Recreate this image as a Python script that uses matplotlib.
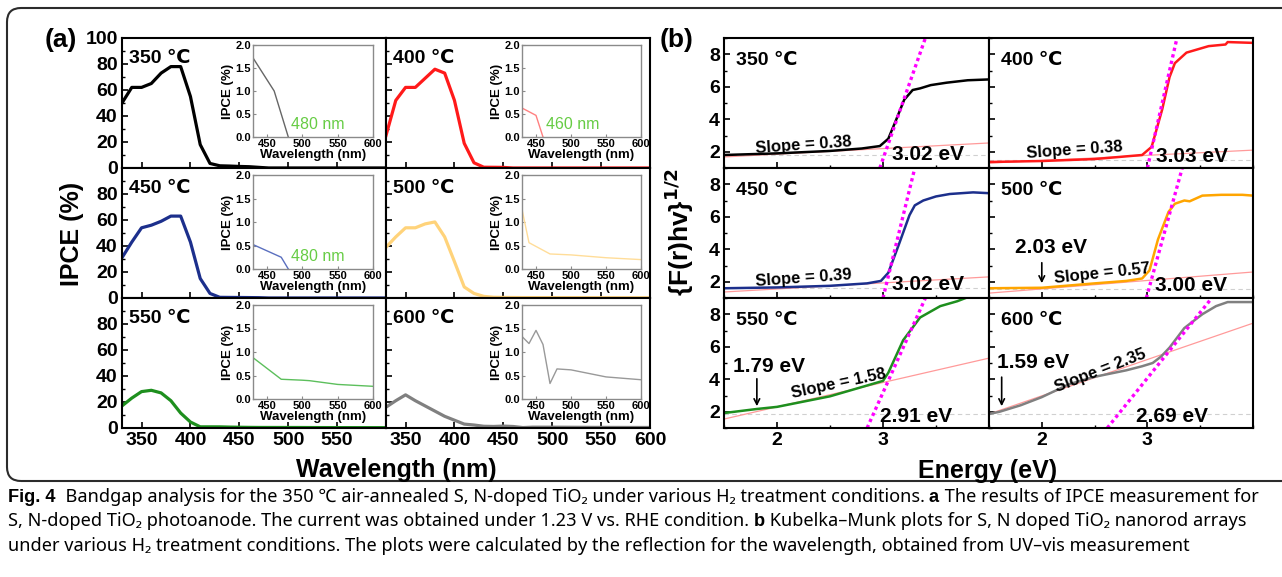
import matplotlib
matplotlib.use("Agg")
import matplotlib.pyplot as plt
from matplotlib.patches import FancyBboxPatch
from matplotlib.transforms import IdentityTransform
from matplotlib.ticker import MultipleLocator

W, H = 1282, 577

plt.rcParams['font.family'] = ['Liberation Sans', 'DejaVu Sans']
plt.rcParams['font.weight'] = 'bold'
plt.rcParams['axes.labelweight'] = 'bold'
plt.rcParams['axes.linewidth'] = 1.5

temps = ['350', '400', '450', '500', '550', '600']

# ---------- (a) IPCE ----------
wavelength = [330, 340, 350, 360, 370, 380, 390, 400, 410, 420, 430, 440, 450, 460,
              470, 480, 490, 500, 510, 520, 530, 540, 550, 560, 570, 580, 590, 600]
ipce_350 = [50, 62, 62, 65, 73, 78, 78, 55, 18, 3.5, 1.7, 1.5, 1.2, 1.0,
            0.5, 0, 0, 0, 0, 0, 0, 0, 0, 0, 0, 0, 0, 0]
ipce_400 = [25, 52, 62, 62, 69, 76, 73, 52, 19, 4, 0.6, 0.55, 0.47, 0,
            0, 0, 0, 0, 0, 0, 0, 0, 0, 0, 0, 0, 0, 0]
ipce_450 = [31, 43, 54, 56, 59, 63, 63, 43, 15, 3.5, 0.52, 0.45, 0.4, 0.33,
            0.25, 0, 0, 0, 0, 0, 0, 0, 0, 0, 0, 0, 0, 0]
ipce_500 = [39, 47, 54, 54, 57, 58.5, 47, 28, 8.5, 3.5, 1.27, 0.56, 0.45, 0.38,
            0.32, 0.31, 0.3, 0.3, 0.29, 0.28, 0.27, 0.25, 0.24, 0.23, 0.22, 0.21, 0.2, 0.2]
ipce_550 = [17, 23, 28, 29, 27, 21, 11.5, 4.6, 0.9, 0.9, 0.88, 0.7, 0.58, 0.48,
            0.42, 0.41, 0.4, 0.4, 0.39, 0.36, 0.34, 0.32, 0.31, 0.3, 0.29, 0.28, 0.27, 0.27]
ipce_600 = [16, 21, 25.5, 21, 17, 13, 9, 6, 3, 2.3, 1.33, 1.18, 1.46, 1.16,
            0.33, 0.64, 0.63, 0.62, 0.6, 0.56, 0.52, 0.48, 0.47, 0.45, 0.44, 0.42, 0.41, 0.41]

# insets (430-600 nm, zoomed)
inset_wl_350 = [430, 460, 480]
inset_350 = [1.72, 1.0, 0.0]
inset_wl_400 = [430, 450, 460]
inset_400 = [0.63, 0.47, 0.0]
inset_wl_450 = [430, 470, 480]
inset_450 = [0.52, 0.25, 0.0]
inset_wl_500 = [430, 440, 470, 500, 550, 600]
inset_500 = [1.27, 0.56, 0.32, 0.3, 0.24, 0.2]
inset_wl_550 = [430, 470, 500, 510, 550, 600]
inset_550 = [0.88, 0.42, 0.4, 0.39, 0.31, 0.27]
inset_wl_600 = [430, 440, 450, 460, 470, 480, 500, 550, 600]
inset_600 = [1.33, 1.18, 1.46, 1.16, 0.33, 0.64, 0.62, 0.47, 0.41]
onset_labels = ['480 nm', '460 nm', '480 nm', '', '', '']

# ---------- (b) Kubelka-Munk ----------
ke_350 = [1.5, 2.0, 2.5, 2.8, 2.97, 3.05, 3.12, 3.2, 3.28, 3.35, 3.45, 3.6, 3.8, 4.0]
km_350 = [1.8, 1.9, 2.05, 2.2, 2.35, 2.8, 3.9, 5.2, 5.8, 5.9, 6.1, 6.25, 6.4, 6.45]
ke_400 = [1.5, 2.0, 2.5, 2.95, 3.04, 3.14, 3.21, 3.26, 3.37, 3.58, 3.74, 3.76, 4.0]
km_400 = [1.37, 1.43, 1.55, 1.8, 2.3, 4.6, 6.6, 7.45, 8.1, 8.5, 8.6, 8.75, 8.7]
ke_450 = [1.5, 2.0, 2.5, 2.85, 2.98, 3.05, 3.15, 3.25, 3.3, 3.38, 3.5, 3.63, 3.85, 4.0]
km_450 = [1.6, 1.65, 1.75, 1.9, 2.05, 2.55, 4.3, 6.1, 6.7, 7.0, 7.25, 7.4, 7.5, 7.45]
ke_500 = [1.5, 2.0, 2.5, 2.8, 2.95, 3.02, 3.1, 3.2, 3.26, 3.35, 3.4, 3.52, 3.7, 3.9, 4.0]
km_500 = [1.6, 1.63, 1.9, 2.05, 2.2, 2.7, 4.6, 6.3, 6.8, 7.0, 6.95, 7.3, 7.35, 7.35, 7.3]
ke_550 = [1.5, 1.81, 2.0, 2.5, 3.0, 3.05, 3.19, 3.35, 3.54, 3.7, 3.78]
km_550 = [1.92, 2.17, 2.3, 2.95, 3.9, 4.4, 6.4, 7.8, 8.5, 8.8, 9.0]
ke_600 = [1.5, 1.6, 1.8, 2.0, 2.26, 2.5, 2.8, 2.95, 3.05, 3.13, 3.21, 3.35, 3.52, 3.65, 3.76, 4.0]
km_600 = [1.86, 2.0, 2.4, 2.9, 3.7, 4.15, 4.55, 4.8, 5.0, 5.4, 5.95, 7.15, 8.0, 8.5, 8.75, 8.75]

# tangent (band edge) lines, from value 1 to 9
tangent_e0 = [2.97, 3.0, 3.0, 2.99, 2.85, 2.62]
tangent_e1 = [3.40, 3.28, 3.30, 3.33, 3.40, 3.61]
# linear fits of the sub-gap region, at E = 1.5 and 4.0
fit_v0 = [1.68, 1.3, 1.37, 1.3, 1.55, 1.86]
fit_v1 = [2.54, 2.1, 2.3, 2.6, 5.3, 7.45]
baseline_v = [1.8, 1.5, 1.6, 1.55, 1.86, 1.86]
slope_text = ['Slope = 0.38', 'Slope = 0.38', 'Slope = 0.39', 'Slope = 0.57', 'Slope = 1.58', 'Slope = 2.35']
slope_pos = [(2.25, 2.42), (2.31, 2.1), (2.25, 2.23), (2.57, 2.48), (2.58, 3.7), (2.55, 4.5)]
slope_rot = [4, 4, 4, 6, 12, 21]
gap_text = ['3.02 eV', '3.03 eV', '3.02 eV', '3.00 eV', '2.91 eV', '2.69 eV']
gap_pos = [(3.42, 1.8), (3.42, 1.68), (3.42, 1.8), (3.41, 1.74), (3.31, 1.68), (3.23, 1.68)]
# sub-gap arrows: panel index -> text, text pos, arrow x, arrow from, arrow to
subgap = {3: ('2.03 eV', (2.09, 4.08), 2.0, 3.34, 1.74),
          4: ('1.79 eV', (1.92, 4.8), 1.81, 4.2, 2.17),
          5: ('1.59 eV', (1.92, 5.0), 1.62, 4.3, 2.17)}

main_colors = ['#000000', '#ff1a1a', '#1c2f8c', '#ffd37a', '#1e8f1e', '#808080']
inset_colors = ['#666666', '#ff8080', '#5a6fbf', '#ffdd99', '#5cbf5c', '#999999']
km_colors = ['#000000', '#ff1a1a', '#1c2f8c', '#ffa500', '#1e8f1e', '#808080']

ipce = [ipce_350, ipce_400, ipce_450, ipce_500, ipce_550, ipce_600]
insets = [(inset_wl_350, inset_350), (inset_wl_400, inset_400), (inset_wl_450, inset_450),
          (inset_wl_500, inset_500), (inset_wl_550, inset_550), (inset_wl_600, inset_600)]
km = [(ke_350, km_350), (ke_400, km_400), (ke_450, km_450),
      (ke_500, km_500), (ke_550, km_550), (ke_600, km_600)]

fig = plt.figure(figsize=(W / 100, H / 100), dpi=100)


def box(x0, y0, x1, y1):
    return fig.add_axes([x0 / W, 1 - y1 / H, (x1 - x0) / W, (y1 - y0) / H])


rows = [(38, 168), (168, 298), (298, 428)]
a_cols = [(122, 386), (386, 650)]
a_inset_cols = [(253, 373), (522, 641)]
a_inset_rows = [(45, 137), (175, 269), (305, 399)]
b_cols = [(724, 989), (989, 1253)]

for i in range(6):
    r, c = divmod(i, 2)
    # ---- (a) main panel
    ax = box(a_cols[c][0], rows[r][0], a_cols[c][1], rows[r][1])
    ax.plot(wavelength, ipce[i], color=main_colors[i], lw=2.3)
    ax.set_xlim(330, 600)
    ax.set_ylim(0, 100)
    ax.set_xticks([350, 400, 450, 500, 550] if c == 0 else [350, 400, 450, 500, 550, 600])
    ax.set_yticks([0, 20, 40, 60, 80, 100])
    ax.yaxis.set_minor_locator(MultipleLocator(10))
    ax.tick_params(direction='in', length=4, width=1.2, labelsize=14, pad=3)
    ax.tick_params(which='minor', direction='in', length=2, width=1)
    if r < 2:
        ax.set_xticklabels([])
    if c == 1:
        ax.set_yticklabels([])
    elif r > 0:
        ax.set_yticklabels(['0', '20', '40', '60', '80', ''])
    ax.text(0.025, 0.845, temps[i] + ' \u2103', transform=ax.transAxes,
            fontsize=14, ha='left', va='center')

    # ---- (a) inset
    ins = box(a_inset_cols[c][0], a_inset_rows[r][0], a_inset_cols[c][1], a_inset_rows[r][1])
    ins.plot(insets[i][0], insets[i][1], color=inset_colors[i], lw=1.0)
    ins.set_xlim(430, 600)
    ins.set_ylim(0, 2.0)
    ins.set_xticks([450, 500, 550, 600])
    ins.set_yticks([0.0, 0.5, 1.0, 1.5, 2.0])
    ins.set_yticklabels(['0.0', '0.5', '1.0', '1.5', '2.0'])
    for s in ins.spines.values():
        s.set_color('#8a8a8a')
        s.set_linewidth(1.0)
    ins.tick_params(direction='in', length=2, width=0.8, labelsize=8, pad=1.5, color='#8a8a8a')
    for lab in ins.get_xticklabels() + ins.get_yticklabels():
        lab.set_fontweight('bold')
    ins.set_xlabel('Wavelength (nm)', fontsize=9.5, fontweight='bold', labelpad=0)
    ins.set_ylabel('IPCE (%)', fontsize=9.5, fontweight='bold', labelpad=1)
    if onset_labels[i]:
        ins.text(484 if i != 1 else 464, 0.27, onset_labels[i], color='#66cc44',
                 fontsize=11.5, fontweight='normal', ha='left', va='center')

    # ---- (b) Kubelka-Munk panel
    bx = box(b_cols[c][0], rows[r][0], b_cols[c][1], rows[r][1])
    bx.axhline(baseline_v[i], color='#d0d0d0', lw=0.8, ls=(0, (4, 3)))
    bx.plot([1.5, 4.0], [fit_v0[i], fit_v1[i]], color='#ff9a9a', lw=0.9)
    bx.plot(km[i][0], km[i][1], color=km_colors[i], lw=1.8)
    bx.plot([tangent_e0[i], tangent_e1[i]], [1, 9], color='#ff00ff', lw=2.4, ls=(0, (1, 1)))
    bx.set_xlim(1.5, 4.0)
    bx.set_ylim(1, 9)
    bx.set_xticks([2, 3])
    bx.set_yticks([2, 4, 6, 8])
    bx.xaxis.set_minor_locator(MultipleLocator(0.5))
    bx.yaxis.set_minor_locator(MultipleLocator(1))
    bx.tick_params(direction='in', length=4, width=1.2, labelsize=14, pad=3)
    bx.tick_params(which='minor', direction='in', length=2.5, width=1)
    if r < 2:
        bx.set_xticklabels([])
    if c == 1:
        bx.set_yticklabels([])
    bx.text(0.045, 0.83, temps[i] + ' \u2103', transform=bx.transAxes,
            fontsize=14, ha='left', va='center')
    bx.text(slope_pos[i][0], slope_pos[i][1], slope_text[i], fontsize=12,
            rotation=slope_rot[i], rotation_mode='anchor', ha='center', va='center')
    bx.text(gap_pos[i][0], gap_pos[i][1], gap_text[i], fontsize=15, ha='center', va='center')
    if i in subgap:
        txt, tpos, ax_e, a_from, a_to = subgap[i]
        bx.text(tpos[0], tpos[1], txt, fontsize=15, ha='center', va='center')
        bx.annotate('', xy=(ax_e, a_to), xytext=(ax_e, a_from),
                    arrowprops=dict(arrowstyle='->', lw=1.2, color='k'))

# axis titles and panel letters
fig.text(61 / W, 1 - 40 / H, '(a)', fontsize=19, ha='center', va='center')
fig.text(677 / W, 1 - 40 / H, '(b)', fontsize=19, ha='center', va='center')
fig.text(72 / W, 1 - 234 / H, 'IPCE (%)', fontsize=18, rotation=90, ha='center', va='center')
fig.text(396 / W, 1 - 470 / H, 'Wavelength (nm)', fontsize=18, ha='center', va='center')
fig.text(988 / W, 1 - 471 / H, 'Energy (eV)', fontsize=18, ha='center', va='center')
fig.text(679 / W, 1 - 232 / H, r'{F(r)hv}$^{\mathbf{1/2}}$', fontsize=19, rotation=90,
         ha='center', va='center')

# rounded frame around the figure
frame = FancyBboxPatch((7, H - 481), 1300, 473, boxstyle='round,pad=0,rounding_size=14',
                       transform=IdentityTransform(), fill=False, edgecolor='#2b2b2b',
                       linewidth=1.5, clip_on=False)
fig.add_artist(frame)

# caption
renderer = fig.canvas.get_renderer()


def caption_line(pieces, y):
    x = 8
    for s, bold in pieces:
        fam = ['Liberation Sans', 'DejaVu Sans'] if bold else ['Noto Sans', 'DejaVu Sans']
        t = fig.text(x / W, 1 - y / H, s, fontsize=13.1, family=fam,
                     fontweight='bold' if bold else 'normal', ha='left', va='baseline')
        x = t.get_window_extent(renderer).x1


caption_line([('Fig. 4', True),
              ('  Bandgap analysis for the 350 \u2103 air-annealed S, N-doped TiO\u2082 under various '
               'H\u2082 treatment conditions.', False),
              (' a', True), (' The results of IPCE measurement for', False)], 502)
caption_line([('S, N-doped TiO\u2082 photoanode. The current was obtained under 1.23 V vs. RHE condition.', False),
              (' b', True), (' Kubelka\u2013Munk plots for S, N doped TiO\u2082 nanorod arrays', False)], 526)
caption_line([('under various H\u2082 treatment conditions. The plots were calculated by the reflection '
               'for the wavelength, obtained from UV\u2013vis measurement', False)], 551)

fig.savefig('out.png', dpi=100)
